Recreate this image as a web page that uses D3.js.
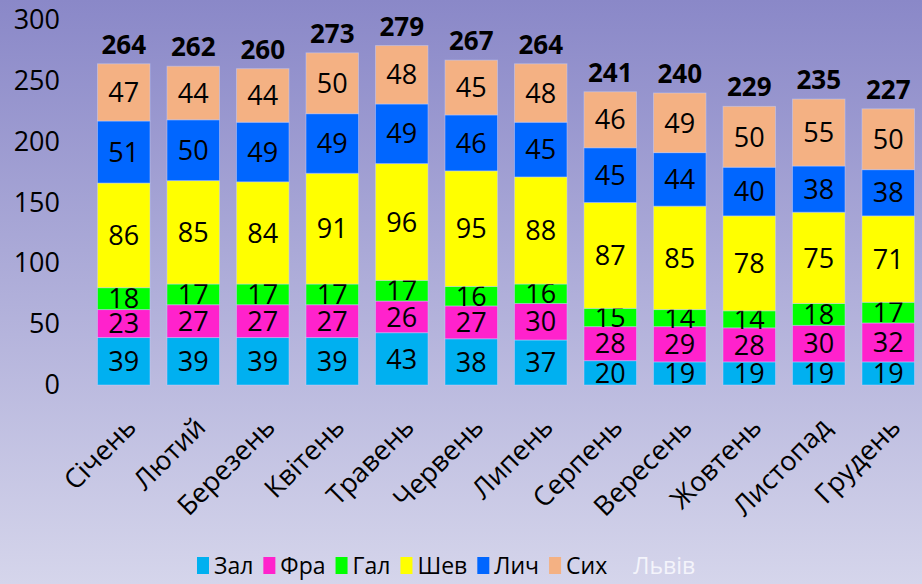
<!DOCTYPE html>
<html>
<head>
<meta charset="utf-8">
<script src="https://cdn.jsdelivr.net/npm/d3@7"></script>
<style>
  html, body { margin: 0; padding: 0; }
  svg { display: block; font-family: 'Open Sans', 'Noto Sans', sans-serif; }
</style>
</head>
<body>
<svg id="chart"></svg>
<script>
// місяці
const months = ['Січень', 'Лютий', 'Березень', 'Квітень', 'Травень', 'Червень',
  'Липень', 'Серпень', 'Вересень', 'Жовтень', 'Листопад', 'Грудень']

const seriesNames = ['Зал', 'Фра', 'Гал', 'Шев', 'Лич', 'Сих']
const seriesColors = ['#00b0f0', '#ff22cc', '#00ff00', '#ffff00', '#0066ff', '#f4b183']

const zal = [39, 39, 39, 39, 43, 38, 37, 20, 19, 19, 19, 19]
const fra = [23, 27, 27, 27, 26, 27, 30, 28, 29, 28, 30, 32]
const gal = [18, 17, 17, 17, 17, 16, 16, 15, 14, 14, 18, 17]
const shev = [86, 85, 84, 91, 96, 95, 88, 87, 85, 78, 75, 71]
const lych = [51, 50, 49, 49, 49, 46, 45, 45, 44, 40, 38, 38]
const syh = [47, 44, 44, 50, 48, 45, 48, 46, 49, 50, 55, 50]

const totals = [264, 262, 260, 273, 279, 267, 264, 241, 240, 229, 235, 227]
const yTicks = [0, 50, 100, 150, 200, 250, 300]

const width = 922
const height = 584

const svg = d3.select('#chart')
  .attr('width', width)
  .attr('height', height)

// фон
const grad = svg.append('defs').append('linearGradient')
  .attr('id', 'bg').attr('x1', 0).attr('y1', 0).attr('x2', 0).attr('y2', 1)
grad.append('stop').attr('offset', '0%').attr('stop-color', '#8a88c8')
grad.append('stop').attr('offset', '100%').attr('stop-color', '#d5d5eb')
svg.append('rect').attr('width', width).attr('height', height).attr('fill', 'url(#bg)')

const x = d3.scaleBand()
  .domain(months)
  .range([89, 923])
  .paddingInner(0.245)
  .paddingOuter(0.1225)

const y = d3.scaleLinear()
  .domain([0, 300])
  .range([385, 20])

// таблиця для стеку
const table = months.map((m, i) => {
  const row = { month: m }
  const cols = [zal, fra, gal, shev, lych, syh]
  seriesNames.forEach((s, j) => { row[s] = cols[j][i] })
  return row
})

const layers = d3.stack().keys(seriesNames)(table)
const color = d3.scaleOrdinal().domain(seriesNames).range(seriesColors)

// вісь Y
const yAxis = svg.append('g')
  .attr('transform', 'translate(60,0)')
  .call(d3.axisLeft(y).tickValues(yTicks).tickSize(0).tickPadding(0))
yAxis.select('.domain').remove()
yAxis.selectAll('text')
  .attr('font-family', 'Open Sans, Noto Sans, sans-serif')
  .attr('font-size', 27)
  .attr('fill', '#000')

// стовпці
const layer = svg.selectAll('.layer')
  .data(layers)
  .enter()
  .append('g')
  .attr('class', 'layer')
  .attr('fill', d => color(d.key))

layer.selectAll('rect')
  .data(d => d.map(item => ({ ...item, key: d.key })))
  .enter()
  .append('rect')
  .attr('x', d => x(d.data.month))
  .attr('y', d => y(d[1]))
  .attr('width', x.bandwidth())
  .attr('height', d => y(d[0]) - y(d[1]))
  .attr('stroke', 'rgba(200,210,255,0.45)')
  .attr('stroke-width', 1)

// підписи значень
layer.selectAll('text')
  .data(d => d.map(item => ({ ...item, key: d.key })))
  .enter()
  .append('text')
  .attr('x', d => x(d.data.month) + x.bandwidth() / 2)
  .attr('y', d => (y(d[0]) + y(d[1])) / 2)
  .attr('dy', '0.36em')
  .attr('text-anchor', 'middle')
  .attr('font-size', 27)
  .attr('fill', '#000')
  .text(d => d.data[d.key])

// підсумки
svg.selectAll('.total')
  .data(months)
  .enter()
  .append('text')
  .attr('class', 'total')
  .attr('x', m => x(m) + x.bandwidth() / 2)
  .attr('y', (m, i) => y(totals[i]) - 10)
  .attr('text-anchor', 'middle')
  .attr('font-size', 26)
  .attr('font-weight', 'bold')
  .attr('fill', '#000')
  .text((m, i) => totals[i])

// вісь X
const xAxis = svg.append('g')
  .attr('transform', 'translate(0,385)')
  .call(d3.axisBottom(x).tickSize(0))
xAxis.select('.domain').remove()
xAxis.selectAll('text')
  .attr('font-family', 'Open Sans, Noto Sans, sans-serif')
  .attr('font-size', 27)
  .attr('fill', '#000')
  .attr('x', 0).attr('y', 0).attr('dy', 0)
  .attr('text-anchor', 'end')
  .attr('transform', 'translate(14,44) rotate(-45)')

// легенда
const legend = svg.append('g').attr('transform', 'translate(197,566)')
let lx = 0
seriesNames.forEach((s, i) => {
  legend.append('rect')
    .attr('x', lx).attr('y', -9)
    .attr('width', 12).attr('height', 17)
    .attr('fill', seriesColors[i])
  const t = legend.append('text')
    .attr('x', lx + 17).attr('y', 0)
    .attr('dy', '0.36em')
    .attr('font-size', 23)
    .attr('fill', '#000')
    .text(s)
  lx += 17 + t.node().getComputedTextLength() + 10
})
legend.append('text')
  .attr('x', lx + 16).attr('y', 0)
  .attr('dy', '0.36em')
  .attr('font-size', 23)
  .attr('fill', '#f4f4fb')
  .text('Львів')
</script>
</body>
</html>
